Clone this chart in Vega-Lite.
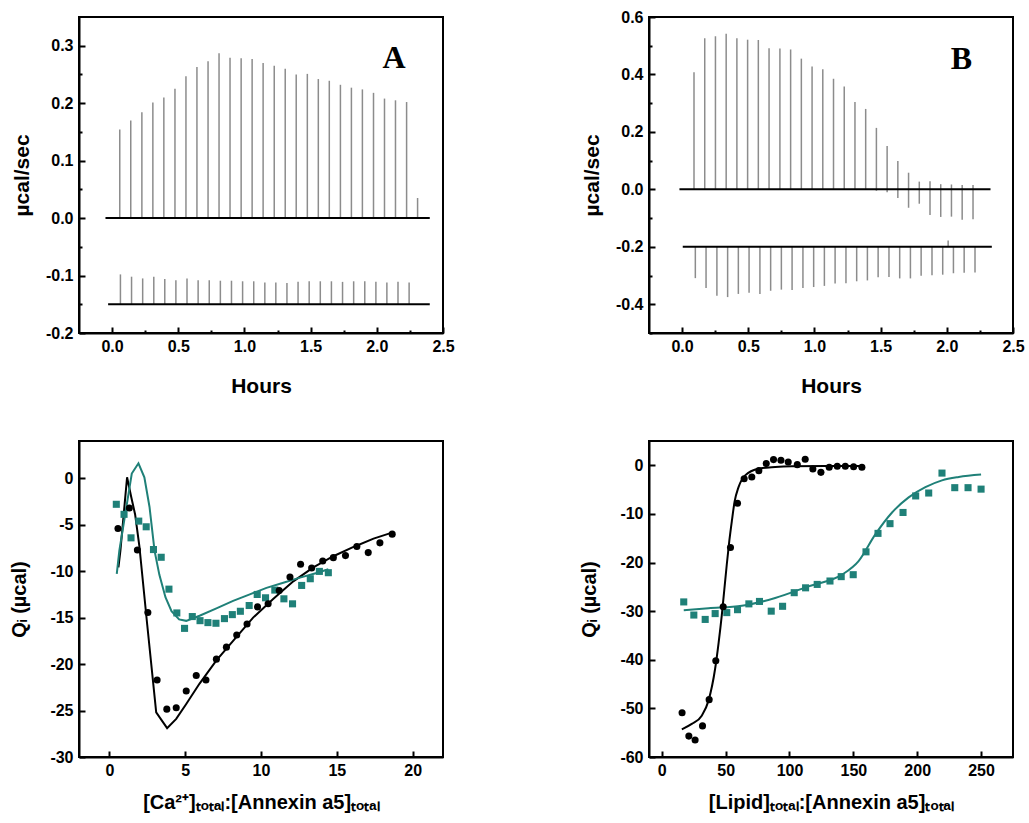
{
  "$schema": "https://vega.github.io/schema/vega-lite/v6.json",
  "padding": {"left": 8, "top": 8, "right": 5, "bottom": 5},
  "background": "white",
  "config": {
    "view": {"stroke": "black", "strokeWidth": 2, "fill": "white"},
    "font": "Liberation Sans",
    "axis": {
      "grid": false,
      "domain": true,
      "domainColor": "black",
      "domainWidth": 2,
      "tickColor": "black",
      "tickWidth": 2,
      "tickSize": -5,
      "tickCount": 30,
      "labelFont": "Liberation Sans",
      "labelFontWeight": "bold",
      "labelFontSize": 16,
      "labelColor": "black",
      "labelOverlap": false,
      "labelBound": false,
      "labelFlush": false,
      "titleFont": "Liberation Sans",
      "titleFontWeight": "bold",
      "titleFontSize": 21,
      "titleColor": "black"
    },
    "axisX": {"labelPadding": 11},
    "axisY": {"labelPadding": 12}
  },
  "datasets": {
    "spikesA": [
      {"t": 0.058, "lo": 0, "hi": 0.154}, {"t": 0.141, "lo": 0, "hi": 0.170}, {"t": 0.225, "lo": 0, "hi": 0.184},
      {"t": 0.308, "lo": 0, "hi": 0.201}, {"t": 0.391, "lo": 0, "hi": 0.210}, {"t": 0.475, "lo": 0, "hi": 0.225},
      {"t": 0.558, "lo": 0, "hi": 0.247}, {"t": 0.641, "lo": 0, "hi": 0.263}, {"t": 0.725, "lo": 0, "hi": 0.273},
      {"t": 0.808, "lo": 0, "hi": 0.287}, {"t": 0.891, "lo": 0, "hi": 0.279}, {"t": 0.975, "lo": 0, "hi": 0.278},
      {"t": 1.058, "lo": 0, "hi": 0.277}, {"t": 1.141, "lo": 0, "hi": 0.270}, {"t": 1.225, "lo": 0, "hi": 0.265},
      {"t": 1.308, "lo": 0, "hi": 0.260}, {"t": 1.391, "lo": 0, "hi": 0.250}, {"t": 1.475, "lo": 0, "hi": 0.251},
      {"t": 1.558, "lo": 0, "hi": 0.242}, {"t": 1.641, "lo": 0, "hi": 0.239}, {"t": 1.725, "lo": 0, "hi": 0.232},
      {"t": 1.808, "lo": 0, "hi": 0.227}, {"t": 1.891, "lo": 0, "hi": 0.224}, {"t": 1.975, "lo": 0, "hi": 0.218},
      {"t": 2.058, "lo": 0, "hi": 0.208}, {"t": 2.141, "lo": 0, "hi": 0.205}, {"t": 2.225, "lo": 0, "hi": 0.202},
      {"t": 2.308, "lo": 0, "hi": 0.035},
      {"t": 0.063, "lo": -0.15, "hi": -0.098}, {"t": 0.147, "lo": -0.15, "hi": -0.102}, {"t": 0.231, "lo": -0.15, "hi": -0.105},
      {"t": 0.315, "lo": -0.15, "hi": -0.102}, {"t": 0.398, "lo": -0.15, "hi": -0.106}, {"t": 0.482, "lo": -0.15, "hi": -0.108},
      {"t": 0.566, "lo": -0.15, "hi": -0.105}, {"t": 0.650, "lo": -0.15, "hi": -0.108}, {"t": 0.734, "lo": -0.15, "hi": -0.108},
      {"t": 0.818, "lo": -0.15, "hi": -0.109}, {"t": 0.902, "lo": -0.15, "hi": -0.109}, {"t": 0.986, "lo": -0.15, "hi": -0.110},
      {"t": 1.070, "lo": -0.15, "hi": -0.110}, {"t": 1.154, "lo": -0.15, "hi": -0.112}, {"t": 1.237, "lo": -0.15, "hi": -0.112},
      {"t": 1.321, "lo": -0.15, "hi": -0.113}, {"t": 1.405, "lo": -0.15, "hi": -0.111}, {"t": 1.489, "lo": -0.15, "hi": -0.110},
      {"t": 1.573, "lo": -0.15, "hi": -0.110}, {"t": 1.657, "lo": -0.15, "hi": -0.110}, {"t": 1.741, "lo": -0.15, "hi": -0.111},
      {"t": 1.825, "lo": -0.15, "hi": -0.110}, {"t": 1.909, "lo": -0.15, "hi": -0.110}, {"t": 1.993, "lo": -0.15, "hi": -0.111},
      {"t": 2.076, "lo": -0.15, "hi": -0.112}, {"t": 2.160, "lo": -0.15, "hi": -0.111}, {"t": 2.244, "lo": -0.15, "hi": -0.112}
    ],
    "baseA": [
      {"x0": -0.05, "x1": 2.40, "y": 0},
      {"x0": -0.03, "x1": 2.40, "y": -0.15}
    ],
    "spikesB": [
      {"t": 0.090, "lo": 0, "hi": 0.408}, {"t": 0.171, "lo": 0, "hi": 0.526}, {"t": 0.252, "lo": 0, "hi": 0.533},
      {"t": 0.333, "lo": 0, "hi": 0.542}, {"t": 0.414, "lo": 0, "hi": 0.526}, {"t": 0.495, "lo": 0, "hi": 0.521},
      {"t": 0.576, "lo": 0, "hi": 0.520}, {"t": 0.657, "lo": 0, "hi": 0.491}, {"t": 0.739, "lo": 0, "hi": 0.490},
      {"t": 0.820, "lo": 0, "hi": 0.487}, {"t": 0.901, "lo": 0, "hi": 0.455}, {"t": 0.982, "lo": 0, "hi": 0.428},
      {"t": 1.063, "lo": 0, "hi": 0.418}, {"t": 1.144, "lo": 0, "hi": 0.385}, {"t": 1.225, "lo": 0, "hi": 0.358},
      {"t": 1.306, "lo": 0, "hi": 0.304}, {"t": 1.387, "lo": 0, "hi": 0.280}, {"t": 1.468, "lo": -0.005, "hi": 0.214},
      {"t": 1.549, "lo": -0.01, "hi": 0.151}, {"t": 1.630, "lo": -0.03, "hi": 0.099}, {"t": 1.711, "lo": -0.064, "hi": 0.058},
      {"t": 1.792, "lo": -0.05, "hi": 0.027}, {"t": 1.873, "lo": -0.089, "hi": 0.028}, {"t": 1.954, "lo": -0.096, "hi": 0.018},
      {"t": 2.035, "lo": -0.095, "hi": 0.017}, {"t": 2.116, "lo": -0.106, "hi": 0.015}, {"t": 2.198, "lo": -0.104, "hi": 0.015},
      {"t": 0.100, "lo": -0.309, "hi": -0.2}, {"t": 0.181, "lo": -0.343, "hi": -0.2}, {"t": 0.263, "lo": -0.370, "hi": -0.2},
      {"t": 0.344, "lo": -0.375, "hi": -0.2}, {"t": 0.425, "lo": -0.364, "hi": -0.2}, {"t": 0.506, "lo": -0.360, "hi": -0.2},
      {"t": 0.588, "lo": -0.364, "hi": -0.2}, {"t": 0.669, "lo": -0.353, "hi": -0.2}, {"t": 0.750, "lo": -0.349, "hi": -0.2},
      {"t": 0.831, "lo": -0.350, "hi": -0.2}, {"t": 0.913, "lo": -0.343, "hi": -0.2}, {"t": 0.994, "lo": -0.340, "hi": -0.2},
      {"t": 1.075, "lo": -0.336, "hi": -0.2}, {"t": 1.156, "lo": -0.328, "hi": -0.2}, {"t": 1.238, "lo": -0.327, "hi": -0.2},
      {"t": 1.319, "lo": -0.320, "hi": -0.2}, {"t": 1.400, "lo": -0.317, "hi": -0.2}, {"t": 1.481, "lo": -0.306, "hi": -0.2},
      {"t": 1.563, "lo": -0.305, "hi": -0.2}, {"t": 1.644, "lo": -0.310, "hi": -0.2}, {"t": 1.725, "lo": -0.310, "hi": -0.2},
      {"t": 1.806, "lo": -0.301, "hi": -0.2}, {"t": 1.888, "lo": -0.299, "hi": -0.2}, {"t": 1.969, "lo": -0.297, "hi": -0.2},
      {"t": 2.050, "lo": -0.292, "hi": -0.2}, {"t": 2.131, "lo": -0.290, "hi": -0.2}, {"t": 2.213, "lo": -0.289, "hi": -0.2},
      {"t": 2.010, "lo": -0.2, "hi": -0.178}
    ],
    "baseB": [
      {"x0": -0.02, "x1": 2.33, "y": 0},
      {"x0": 0.005, "x1": 2.34, "y": -0.2}
    ],
    "ptsC": [
      {"x": 0.57, "y": -5.41, "s": "k"}, {"x": 1.32, "y": -3.21, "s": "k"}, {"x": 1.85, "y": -7.72, "s": "k"},
      {"x": 2.54, "y": -14.46, "s": "k"}, {"x": 3.15, "y": -21.71, "s": "k"}, {"x": 3.79, "y": -24.85, "s": "k"},
      {"x": 4.41, "y": -24.70, "s": "k"}, {"x": 5.07, "y": -22.90, "s": "k"}, {"x": 5.73, "y": -21.24, "s": "k"},
      {"x": 6.37, "y": -21.71, "s": "k"}, {"x": 7.06, "y": -19.47, "s": "k"}, {"x": 7.72, "y": -18.18, "s": "k"},
      {"x": 8.40, "y": -16.88, "s": "k"}, {"x": 9.08, "y": -15.69, "s": "k"}, {"x": 9.77, "y": -13.85, "s": "k"},
      {"x": 10.47, "y": -13.52, "s": "k"}, {"x": 11.20, "y": -12.08, "s": "k"}, {"x": 11.91, "y": -10.64, "s": "k"},
      {"x": 12.61, "y": -9.27, "s": "k"}, {"x": 13.34, "y": -9.66, "s": "k"}, {"x": 14.07, "y": -8.91, "s": "k"},
      {"x": 14.77, "y": -8.55, "s": "k"}, {"x": 15.57, "y": -8.33, "s": "k"}, {"x": 16.32, "y": -7.36, "s": "k"},
      {"x": 17.07, "y": -8.01, "s": "k"}, {"x": 17.84, "y": -6.96, "s": "k"}, {"x": 18.65, "y": -6.02, "s": "k"},
      {"x": 0.46, "y": -2.81, "s": "t"}, {"x": 0.97, "y": -3.89, "s": "t"}, {"x": 1.43, "y": -6.42, "s": "t"},
      {"x": 1.94, "y": -4.62, "s": "t"}, {"x": 2.43, "y": -5.23, "s": "t"}, {"x": 2.91, "y": -7.68, "s": "t"},
      {"x": 3.42, "y": -8.51, "s": "t"}, {"x": 3.93, "y": -11.94, "s": "t"}, {"x": 4.45, "y": -14.50, "s": "t"},
      {"x": 4.96, "y": -16.16, "s": "t"}, {"x": 5.47, "y": -14.89, "s": "t"}, {"x": 5.98, "y": -15.33, "s": "t"},
      {"x": 6.50, "y": -15.54, "s": "t"}, {"x": 7.03, "y": -15.61, "s": "t"}, {"x": 7.59, "y": -15.11, "s": "t"},
      {"x": 8.11, "y": -14.68, "s": "t"}, {"x": 8.64, "y": -14.32, "s": "t"}, {"x": 9.22, "y": -13.70, "s": "t"},
      {"x": 9.75, "y": -12.51, "s": "t"}, {"x": 10.30, "y": -12.87, "s": "t"}, {"x": 10.91, "y": -12.04, "s": "t"},
      {"x": 11.51, "y": -12.98, "s": "t"}, {"x": 12.08, "y": -13.52, "s": "t"}, {"x": 12.68, "y": -11.54, "s": "t"},
      {"x": 13.25, "y": -10.82, "s": "t"}, {"x": 13.85, "y": -10.03, "s": "t"}, {"x": 14.44, "y": -10.17, "s": "t"}
    ],
    "fitC": [
      {"x": 0.60, "y": -9.6, "s": "k"}, {"x": 0.73, "y": -7.8, "s": "k"}, {"x": 1.17, "y": 0.1, "s": "k"},
      {"x": 1.44, "y": -2.0, "s": "k"}, {"x": 1.70, "y": -3.9, "s": "k"}, {"x": 1.98, "y": -7.3, "s": "k"},
      {"x": 2.50, "y": -15.8, "s": "k"}, {"x": 3.09, "y": -25.2, "s": "k"}, {"x": 3.81, "y": -26.9, "s": "k"},
      {"x": 4.41, "y": -25.9, "s": "k"}, {"x": 5.07, "y": -24.3, "s": "k"}, {"x": 5.95, "y": -22.1, "s": "k"},
      {"x": 7.06, "y": -19.6, "s": "k"}, {"x": 8.16, "y": -17.5, "s": "k"}, {"x": 9.48, "y": -15.0, "s": "k"},
      {"x": 10.80, "y": -13.0, "s": "k"}, {"x": 12.13, "y": -11.1, "s": "k"}, {"x": 13.45, "y": -9.6, "s": "k"},
      {"x": 14.77, "y": -8.4, "s": "k"}, {"x": 16.10, "y": -7.4, "s": "k"}, {"x": 17.42, "y": -6.5, "s": "k"},
      {"x": 18.74, "y": -5.8, "s": "k"},
      {"x": 0.49, "y": -10.3, "s": "t"}, {"x": 0.66, "y": -7.8, "s": "t"}, {"x": 1.48, "y": 0.5, "s": "t"},
      {"x": 1.92, "y": 1.6, "s": "t"}, {"x": 2.31, "y": 0.1, "s": "t"}, {"x": 2.65, "y": -3.1, "s": "t"},
      {"x": 2.98, "y": -7.8, "s": "t"}, {"x": 3.30, "y": -10.4, "s": "t"}, {"x": 3.70, "y": -12.8, "s": "t"},
      {"x": 4.10, "y": -14.3, "s": "t"}, {"x": 4.60, "y": -15.2, "s": "t"}, {"x": 5.07, "y": -15.35, "s": "t"},
      {"x": 5.95, "y": -14.8, "s": "t"}, {"x": 7.06, "y": -14.0, "s": "t"}, {"x": 8.16, "y": -13.2, "s": "t"},
      {"x": 9.26, "y": -12.5, "s": "t"}, {"x": 10.36, "y": -11.8, "s": "t"}, {"x": 11.47, "y": -11.25, "s": "t"},
      {"x": 12.57, "y": -10.7, "s": "t"}, {"x": 13.67, "y": -10.2, "s": "t"}, {"x": 14.44, "y": -9.8, "s": "t"}
    ],
    "ptsD": [
      {"x": 15.9, "y": -50.9, "s": "k"}, {"x": 21.2, "y": -55.7, "s": "k"}, {"x": 26.1, "y": -56.5, "s": "k"},
      {"x": 31.9, "y": -53.6, "s": "k"}, {"x": 37.1, "y": -48.2, "s": "k"}, {"x": 42.3, "y": -40.2, "s": "k"},
      {"x": 48.1, "y": -29.1, "s": "k"}, {"x": 53.8, "y": -16.9, "s": "k"}, {"x": 59.3, "y": -7.8, "s": "k"},
      {"x": 64.5, "y": -2.76, "s": "k"}, {"x": 70.5, "y": -2.42, "s": "k"}, {"x": 76.0, "y": -1.1, "s": "k"},
      {"x": 81.8, "y": 0.35, "s": "k"}, {"x": 87.5, "y": 1.17, "s": "k"}, {"x": 93.3, "y": 1.04, "s": "k"},
      {"x": 99.0, "y": 0.69, "s": "k"}, {"x": 106.1, "y": 0.14, "s": "k"}, {"x": 112.3, "y": 1.24, "s": "k"},
      {"x": 118.3, "y": -0.76, "s": "k"}, {"x": 124.6, "y": -1.45, "s": "k"}, {"x": 131.1, "y": -0.41, "s": "k"},
      {"x": 137.4, "y": -0.21, "s": "k"}, {"x": 143.7, "y": -0.21, "s": "k"}, {"x": 150.2, "y": -0.28, "s": "k"},
      {"x": 156.7, "y": -0.41, "s": "k"},
      {"x": 17.2, "y": -28.1, "s": "t"}, {"x": 25.1, "y": -30.8, "s": "t"}, {"x": 34.0, "y": -31.7, "s": "t"},
      {"x": 41.8, "y": -30.5, "s": "t"}, {"x": 50.9, "y": -30.3, "s": "t"}, {"x": 59.3, "y": -29.7, "s": "t"},
      {"x": 68.2, "y": -28.5, "s": "t"}, {"x": 76.5, "y": -28.0, "s": "t"}, {"x": 85.7, "y": -30.0, "s": "t"},
      {"x": 94.6, "y": -29.0, "s": "t"}, {"x": 103.7, "y": -26.2, "s": "t"}, {"x": 112.6, "y": -25.2, "s": "t"},
      {"x": 121.7, "y": -24.5, "s": "t"}, {"x": 131.7, "y": -23.8, "s": "t"}, {"x": 140.5, "y": -22.9, "s": "t"},
      {"x": 149.9, "y": -22.5, "s": "t"}, {"x": 159.9, "y": -17.8, "s": "t"}, {"x": 169.3, "y": -14.0, "s": "t"},
      {"x": 178.7, "y": -12.0, "s": "t"}, {"x": 188.9, "y": -9.7, "s": "t"}, {"x": 198.8, "y": -6.3, "s": "t"},
      {"x": 209.0, "y": -5.7, "s": "t"}, {"x": 219.4, "y": -1.6, "s": "t"}, {"x": 229.4, "y": -4.6, "s": "t"},
      {"x": 239.8, "y": -4.6, "s": "t"}, {"x": 250.0, "y": -4.9, "s": "t"}
    ],
    "fitD": [
      {"x": 15.7, "y": -54.3, "s": "k"}, {"x": 23.5, "y": -53.2, "s": "k"}, {"x": 31.3, "y": -51.5, "s": "k"},
      {"x": 36.6, "y": -48.4, "s": "k"}, {"x": 41.8, "y": -41.8, "s": "k"}, {"x": 44.5, "y": -36.5, "s": "k"},
      {"x": 47.0, "y": -30.8, "s": "k"}, {"x": 49.0, "y": -25.5, "s": "k"}, {"x": 50.9, "y": -20.4, "s": "k"},
      {"x": 52.9, "y": -15.5, "s": "k"}, {"x": 54.9, "y": -11.4, "s": "k"}, {"x": 57.0, "y": -7.5, "s": "k"},
      {"x": 60.1, "y": -4.5, "s": "k"}, {"x": 65.3, "y": -2.07, "s": "k"}, {"x": 75.8, "y": -0.69, "s": "k"},
      {"x": 88.8, "y": -0.35, "s": "k"}, {"x": 101.9, "y": -0.2, "s": "k"}, {"x": 128.0, "y": -0.14, "s": "k"},
      {"x": 156.7, "y": -0.14, "s": "k"},
      {"x": 17.2, "y": -29.8, "s": "t"}, {"x": 36.6, "y": -29.4, "s": "t"}, {"x": 62.7, "y": -28.9, "s": "t"},
      {"x": 88.8, "y": -27.3, "s": "t"}, {"x": 114.9, "y": -24.9, "s": "t"}, {"x": 141.1, "y": -22.5, "s": "t"},
      {"x": 154.1, "y": -19.7, "s": "t"}, {"x": 167.2, "y": -14.2, "s": "t"}, {"x": 180.3, "y": -9.7, "s": "t"},
      {"x": 193.3, "y": -6.6, "s": "t"}, {"x": 206.4, "y": -4.5, "s": "t"}, {"x": 219.4, "y": -3.1, "s": "t"},
      {"x": 232.5, "y": -2.4, "s": "t"}, {"x": 250.0, "y": -1.9, "s": "t"}
    ]
  },
  "concat": [
    {
      "width": 364, "height": 316,
      "layer": [
        {
          "data": {"name": "spikesA"},
          "mark": {"type": "rule", "color": "#8c8c8c", "strokeWidth": 1.5},
          "encoding": {
            "x": {"field": "t", "type": "quantitative",
              "scale": {"domain": [-0.25, 2.5], "nice": false, "zero": false},
              "axis": {"title": "Hours", "titlePadding": 18,
                "values": [0, 0.25, 0.5, 0.75, 1, 1.25, 1.5, 1.75, 2, 2.25, 2.5],
                "labelExpr": "indexof([0, 5, 10, 15, 20, 25], round(datum.value*10)) >= 0 ? format(datum.value,'.1f') : ''",
                "tickSize": {"condition": {"test": "indexof([0, 5, 10, 15, 20, 25], round(datum.value*10)) >= 0", "value": -6}, "value": -3}}},
            "y": {"field": "lo", "type": "quantitative",
              "scale": {"domain": [-0.2, 0.35], "nice": false, "zero": false},
              "axis": {"title": "µcal/sec", "titlePadding": 13,
                "values": [-0.2, -0.15, -0.1, -0.05, 0, 0.05, 0.1, 0.15, 0.2, 0.25, 0.3],
                "labelExpr": "indexof([-20, -10, 0, 10, 20, 30], round(datum.value*100)) >= 0 ? replace(format(datum.value,'.1f'),'\u2212','-') : ''",
                "tickSize": {"condition": {"test": "indexof([-20, -10, 0, 10, 20, 30], round(datum.value*100)) >= 0", "value": -6}, "value": -3}}},
            "y2": {"field": "hi"}
          }
        },
        {
          "data": {"name": "baseA"},
          "mark": {"type": "rule", "color": "black", "strokeWidth": 2},
          "encoding": {
            "x": {"field": "x0", "type": "quantitative"},
            "x2": {"field": "x1"},
            "y": {"field": "y", "type": "quantitative"}
          }
        },
        {
          "data": {"values": [{"lab": "A", "x": 2.13, "y": 0.262}]},
          "mark": {"type": "text", "font": "Liberation Serif", "fontWeight": "bold", "fontSize": 32, "color": "black", "align": "center", "baseline": "alphabetic"},
          "encoding": {
            "x": {"field": "x", "type": "quantitative"},
            "y": {"field": "y", "type": "quantitative"},
            "text": {"field": "lab"}
          }
        }
      ]
    },
    {
      "width": 364, "height": 316,
      "layer": [
        {
          "data": {"name": "spikesB"},
          "mark": {"type": "rule", "color": "#8c8c8c", "strokeWidth": 1.5},
          "encoding": {
            "x": {"field": "t", "type": "quantitative",
              "scale": {"domain": [-0.25, 2.5], "nice": false, "zero": false},
              "axis": {"title": "Hours", "titlePadding": 18,
                "values": [0, 0.25, 0.5, 0.75, 1, 1.25, 1.5, 1.75, 2, 2.25, 2.5],
                "labelExpr": "indexof([0, 5, 10, 15, 20, 25], round(datum.value*10)) >= 0 ? format(datum.value,'.1f') : ''",
                "tickSize": {"condition": {"test": "indexof([0, 5, 10, 15, 20, 25], round(datum.value*10)) >= 0", "value": -6}, "value": -3}}},
            "y": {"field": "lo", "type": "quantitative",
              "scale": {"domain": [-0.5, 0.6], "nice": false, "zero": false},
              "axis": {"title": "µcal/sec", "titlePadding": 13,
                "values": [-0.5, -0.4, -0.3, -0.2, -0.1, 0, 0.1, 0.2, 0.3, 0.4, 0.5, 0.6],
                "labelExpr": "indexof([-4, -2, 0, 2, 4, 6], round(datum.value*10)) >= 0 ? replace(format(datum.value,'.1f'),'\u2212','-') : ''",
                "tickSize": {"condition": {"test": "indexof([-4, -2, 0, 2, 4, 6], round(datum.value*10)) >= 0", "value": -6}, "value": -3}}},
            "y2": {"field": "hi"}
          }
        },
        {
          "data": {"name": "baseB"},
          "mark": {"type": "rule", "color": "black", "strokeWidth": 2},
          "encoding": {
            "x": {"field": "x0", "type": "quantitative"},
            "x2": {"field": "x1"},
            "y": {"field": "y", "type": "quantitative"}
          }
        },
        {
          "data": {"values": [{"lab": "B", "x": 2.11, "y": 0.42}]},
          "mark": {"type": "text", "font": "Liberation Serif", "fontWeight": "bold", "fontSize": 32, "color": "black", "align": "center", "baseline": "alphabetic"},
          "encoding": {
            "x": {"field": "x", "type": "quantitative"},
            "y": {"field": "y", "type": "quantitative"},
            "text": {"field": "lab"}
          }
        }
      ]
    },
    {
      "width": 364, "height": 316,
      "layer": [
        {
          "data": {"name": "fitC"},
          "transform": [{"filter": "datum.s == 'k'"}],
          "mark": {"type": "line", "color": "black", "strokeWidth": 2},
          "encoding": {
            "x": {"field": "x", "type": "quantitative",
              "scale": {"domain": [-2, 22], "nice": false, "zero": false},
              "axis": {"title": "[Ca²⁺]ₜₒₜₐₗ:[Annexin a5]ₜₒₜₐₗ", "titleFontSize": 20, "titlePadding": 14, "values": [0, 5, 10, 15, 20], "tickSize": -6, "format": "d"}},
            "y": {"field": "y", "type": "quantitative",
              "scale": {"domain": [-30, 4], "nice": false, "zero": false},
              "axis": {"title": "Qᵢ (µcal)", "titleFontSize": 20, "titlePadding": 20, "values": [-30, -25, -20, -15, -10, -5, 0], "tickSize": -6,
                "labelExpr": "replace(format(datum.value,'d'),'\u2212','-')"}},
            "order": {"field": "x", "type": "quantitative"}
          }
        },
        {
          "data": {"name": "fitC"},
          "transform": [{"filter": "datum.s == 't'"}],
          "mark": {"type": "line", "color": "#1f8078", "strokeWidth": 2},
          "encoding": {
            "x": {"field": "x", "type": "quantitative"},
            "y": {"field": "y", "type": "quantitative"},
            "order": {"field": "x", "type": "quantitative"}
          }
        },
        {
          "data": {"name": "ptsC"},
          "transform": [{"filter": "datum.s == 't'"}],
          "mark": {"type": "point", "shape": "square", "filled": true, "color": "#1f8078", "size": 50, "opacity": 1},
          "encoding": {
            "x": {"field": "x", "type": "quantitative"},
            "y": {"field": "y", "type": "quantitative"}
          }
        },
        {
          "data": {"name": "ptsC"},
          "transform": [{"filter": "datum.s == 'k'"}],
          "mark": {"type": "circle", "color": "black", "size": 50, "opacity": 1},
          "encoding": {
            "x": {"field": "x", "type": "quantitative"},
            "y": {"field": "y", "type": "quantitative"}
          }
        }
      ]
    },
    {
      "width": 364, "height": 316,
      "layer": [
        {
          "data": {"name": "fitD"},
          "transform": [{"filter": "datum.s == 'k'"}],
          "mark": {"type": "line", "color": "black", "strokeWidth": 2, "interpolate": "monotone"},
          "encoding": {
            "x": {"field": "x", "type": "quantitative",
              "scale": {"domain": [-10, 275], "nice": false, "zero": false},
              "axis": {"title": "[Lipid]ₜₒₜₐₗ:[Annexin a5]ₜₒₜₐₗ", "titleFontSize": 20, "titlePadding": 14, "values": [0, 50, 100, 150, 200, 250], "tickSize": -6, "format": "d"}},
            "y": {"field": "y", "type": "quantitative",
              "scale": {"domain": [-60, 5], "nice": false, "zero": false},
              "axis": {"title": "Qᵢ (µcal)", "titleFontSize": 20, "titlePadding": 20, "values": [-60, -50, -40, -30, -20, -10, 0], "tickSize": -6,
                "labelExpr": "replace(format(datum.value,'d'),'\u2212','-')"}},
            "order": {"field": "x", "type": "quantitative"}
          }
        },
        {
          "data": {"name": "fitD"},
          "transform": [{"filter": "datum.s == 't'"}],
          "mark": {"type": "line", "color": "#1f8078", "strokeWidth": 2, "interpolate": "monotone"},
          "encoding": {
            "x": {"field": "x", "type": "quantitative"},
            "y": {"field": "y", "type": "quantitative"},
            "order": {"field": "x", "type": "quantitative"}
          }
        },
        {
          "data": {"name": "ptsD"},
          "transform": [{"filter": "datum.s == 't'"}],
          "mark": {"type": "point", "shape": "square", "filled": true, "color": "#1f8078", "size": 50, "opacity": 1},
          "encoding": {
            "x": {"field": "x", "type": "quantitative"},
            "y": {"field": "y", "type": "quantitative"}
          }
        },
        {
          "data": {"name": "ptsD"},
          "transform": [{"filter": "datum.s == 'k'"}],
          "mark": {"type": "circle", "color": "black", "size": 50, "opacity": 1},
          "encoding": {
            "x": {"field": "x", "type": "quantitative"},
            "y": {"field": "y", "type": "quantitative"}
          }
        }
      ]
    }
  ],
  "columns": 2,
  "spacing": {"row": 108, "column": 206},
  "bounds": "flush"
}
